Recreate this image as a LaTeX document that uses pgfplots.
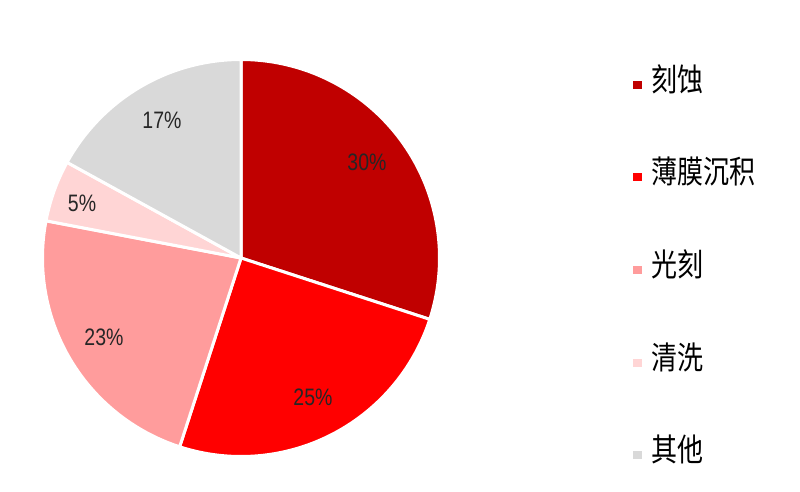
\documentclass[border=0pt]{standalone}
\usepackage{fontspec}
\setmainfont{Liberation Sans}
\newfontfamily\cjk{Noto Sans CJK SC}
\usepackage{pgfplots}
\pgfplotsset{compat=1.18}
\definecolor{cA}{HTML}{C00000}
\definecolor{cB}{HTML}{FF0000}
\definecolor{cC}{HTML}{FF9C9C}
\definecolor{cD}{HTML}{FFD5D5}
\definecolor{cE}{HTML}{D9D9D9}
\newcommand{\vs}[1]{\scalebox{1}[1.22]{#1}}
\begin{document}
\begin{tikzpicture}
\begin{axis}[
  scale only axis, width=800pt, height=491pt,
  xmin=0, xmax=800, ymin=0, ymax=491,
  hide axis, clip=false,
  samples=120,
  every axis plot/.append style={draw=white, line width=3pt, line join=round},
  legend image code/.code={\path[#1, draw=none] (0pt,-4pt) rectangle (9pt,4pt);},
  legend style={at={(axis cs:633,417)}, anchor=north west, draw=none, fill=none,
    inner sep=0pt, row sep=71.6pt, legend cell align=left,
    font=\cjk\fontsize{26}{28}\selectfont,
    nodes={inner xsep=9pt, inner ysep=0pt, text height=17pt, text depth=4pt}},
]
\addplot[draw=none, forget plot] coordinates {(0,0) (800,491)};
% cumulative percentage ranges: 30, 25, 23, 5, 17
\addplot[fill=cA, domain=0:30]   ({241+198.5*cos(90-3.6*x)}, {233+198.5*sin(90-3.6*x)}) -- (axis cs:241,233) -- cycle;
\addplot[fill=cB, domain=30:55]  ({241+198.5*cos(90-3.6*x)}, {233+198.5*sin(90-3.6*x)}) -- (axis cs:241,233) -- cycle;
\addplot[fill=cC, domain=55:78]  ({241+198.5*cos(90-3.6*x)}, {233+198.5*sin(90-3.6*x)}) -- (axis cs:241,233) -- cycle;
\addplot[fill=cD, domain=78:83]  ({241+198.5*cos(90-3.6*x)}, {233+198.5*sin(90-3.6*x)}) -- (axis cs:241,233) -- cycle;
\addplot[fill=cE, domain=83:100] ({241+198.5*cos(90-3.6*x)}, {233+198.5*sin(90-3.6*x)}) -- (axis cs:241,233) -- cycle;
\legend{\vs{刻蚀}, \vs{薄膜沉积}, \vs{光刻}, \vs{清洗}, \vs{其他}}
\begin{scope}[every node/.style={font=\fontsize{19.5}{24}\selectfont, text=black!85}]
\node at (axis cs:367,329) {\vs{30\%}};
\node at (axis cs:313,94) {\vs{25\%}};
\node at (axis cs:104,154) {\vs{23\%}};
\node at (axis cs:82,288) {\vs{5\%}};
\node at (axis cs:162,371) {\vs{17\%}};
\end{scope}
\end{axis}
\end{tikzpicture}
\end{document}
